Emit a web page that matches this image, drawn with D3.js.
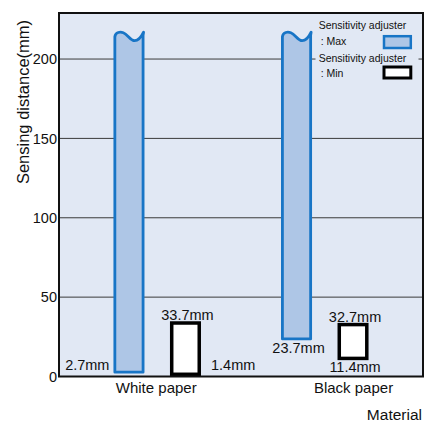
<!DOCTYPE html>
<html><head><meta charset="utf-8">
<script src="https://cdn.jsdelivr.net/npm/d3@7"></script>
<style>
html,body{margin:0;padding:0;background:#fff;}
svg{display:block;font-family:"Liberation Sans",Arial,Helvetica,sans-serif;}
</style></head>
<body>
<svg id="c" width="425" height="424"></svg>
<script>
// ---- data ----
const categories = ["White paper", "Black paper"];
const series = ["max", "min"];
const maxLow = [2.7, 23.7];
const maxHigh = [215, 215];      // bar is broken (wavy top) – goes beyond axis
const minLow = [1.4, 11.4];
const minHigh = [33.7, 32.7];
const maxLowLabels = ["2.7mm", "23.7mm"];
const minHighLabels = ["33.7mm", "32.7mm"];
const minLowLabels = ["1.4mm", "11.4mm"];
const yTicks = [0, 50, 100, 150, 200];
const legendLabels = ["Sensitivity adjuster", ": Max", "Sensitivity adjuster", ": Min"];

// ---- layout ----
const svg = d3.select("#c");
const L = 59, R = 423, T = 13, B = 376.5;
const bg = "#e1e8f4", maxFill = "#aec6e6", maxStroke = "#1875c6";

const y = d3.scaleLinear().domain([0, 229]).range([B, T]);
const x = d3.scaleBand().domain(categories).range([L, R]).paddingInner(0.4776).paddingOuter(0.325);
const xi = d3.scaleBand().domain(series).range([0, x.bandwidth()]).paddingInner(0.451).paddingOuter(0);

svg.append("rect").attr("x", L).attr("y", T).attr("width", R - L).attr("height", B - T).attr("fill", bg);

// gridlines
svg.append("g").selectAll("line").data(yTicks.filter(d => d > 0)).join("line")
  .attr("x1", L).attr("x2", R).attr("y1", d => y(d)).attr("y2", d => y(d))
  .attr("stroke", "#3a3a3a").attr("stroke-width", 1);

// y axis labels
const yAxis = d3.axisLeft(y).tickValues(yTicks).tickSize(0).tickPadding(2);
const ga = svg.append("g").attr("transform", `translate(${L},0)`).call(yAxis);
ga.select(".domain").remove();
ga.selectAll("text").attr("font-size", 14.5).attr("fill", "#111").attr("font-family", "Liberation Sans, Arial, sans-serif");

const sw = 2.8;
// max bars (wavy top)
categories.forEach((c, i) => {
  const bx = x(c) + xi("max");
  const w = xi.bandwidth();
  const x0 = bx + sw / 2, x1 = bx + w - sw / 2, ww = x1 - x0;
  const yT = y(maxHigh[i]), yB = y(maxLow[i]);
  const p = d3.path();
  p.moveTo(x0, yB);
  p.lineTo(x0, yT + 1.5);
  p.bezierCurveTo(x0 + 0.02 * ww, yT - 3.5, x0 + 0.2 * ww, yT - 3.5, x0 + 0.3 * ww, yT - 2.5);
  p.bezierCurveTo(x0 + 0.45 * ww, yT - 1, x0 + 0.55 * ww, yT + 5.5, x0 + 0.7 * ww, yT + 5.5);
  p.bezierCurveTo(x0 + 0.85 * ww, yT + 5.5, x0 + 0.95 * ww, yT + 1, x1 + 0.5, yT - 3);
  p.lineTo(x1, yT);
  p.lineTo(x1, yB);
  p.closePath();
  svg.append("path").attr("d", p.toString()).attr("fill", maxFill)
    .attr("stroke", maxStroke).attr("stroke-width", sw).attr("stroke-linejoin", "round");
});

// min bars
const msw = 3.5;
svg.append("g").selectAll("rect").data(categories).join("rect")
  .attr("x", c => x(c) + xi("min") + msw / 2)
  .attr("width", xi.bandwidth() - msw)
  .attr("y", (c, i) => y(minHigh[i]))
  .attr("height", (c, i) => y(minLow[i]) - y(minHigh[i]))
  .attr("fill", "#fff").attr("stroke", "#000").attr("stroke-width", msw);

// value labels
const lbl = (tx, ty, t, anchor) => svg.append("text").attr("x", tx).attr("y", ty).attr("text-anchor", anchor)
  .attr("font-size", 14.5).attr("fill", "#111").text(t);
categories.forEach((c, i) => {
  const mxL = x(c) + xi("max"), mxC = mxL + xi.bandwidth() / 2;
  const mnL = x(c) + xi("min"), mnC = mnL + xi.bandwidth() / 2, mnR = mnL + xi.bandwidth();
  lbl(mnC + 2, y(minHigh[i]) - 3, minHighLabels[i], "middle");
  if (i === 0) {
    lbl(mxL - 4, 370, maxLowLabels[i], "end");
    lbl(mnR + 10, 370, minLowLabels[i], "start");
  } else {
    lbl(mxC + 2, y(maxLow[i]) + 14.5, maxLowLabels[i], "middle");
    lbl(mnC + 2, y(minLow[i]) + 13.5, minLowLabels[i], "middle");
  }
});

// frame
svg.append("rect").attr("x", L).attr("y", T).attr("width", R - L).attr("height", B - T)
  .attr("fill", "none").attr("stroke", "#111").attr("stroke-width", 2);

// category labels
svg.append("g").selectAll("text").data(categories).join("text")
  .attr("x", (c, i) => i === 0 ? x(c) + x.bandwidth() / 2 - 1 : x(c) + xi("min") + xi.bandwidth() / 2 + 0.5)
  .attr("y", 393.3).attr("text-anchor", "middle").attr("font-size", 15).attr("fill", "#111").text(c => c);

// axis titles
svg.append("text").attr("x", 422).attr("y", 420).attr("text-anchor", "end")
  .attr("font-size", 15.5).attr("fill", "#111").text("Material");
svg.append("text").attr("transform", "translate(29,102) rotate(-90)").attr("text-anchor", "middle")
  .attr("font-size", 16.5).attr("fill", "#111").text("Sensing distance(mm)");

// legend
const lg = svg.append("g");
lg.append("rect").attr("x", 315.5).attr("y", 16).attr("width", 103).attr("height", 66).attr("fill", bg);
const lt = [[318.7, 29.3], [320.7, 45], [318.7, 62.3], [320.7, 76.7]];
lg.selectAll("text").data(legendLabels).join("text")
  .attr("x", (d, i) => lt[i][0]).attr("y", (d, i) => lt[i][1])
  .attr("font-size", 10.5).attr("fill", "#111").text(d => d);
lg.append("rect").attr("x", 384).attr("y", 36.2).attr("width", 26.8).attr("height", 11.8)
  .attr("fill", maxFill).attr("stroke", maxStroke).attr("stroke-width", 2.5);
lg.append("rect").attr("x", 384).attr("y", 67).attr("width", 26.8).attr("height", 11)
  .attr("fill", "#fff").attr("stroke", "#000").attr("stroke-width", 3);
</script>
</body></html>
